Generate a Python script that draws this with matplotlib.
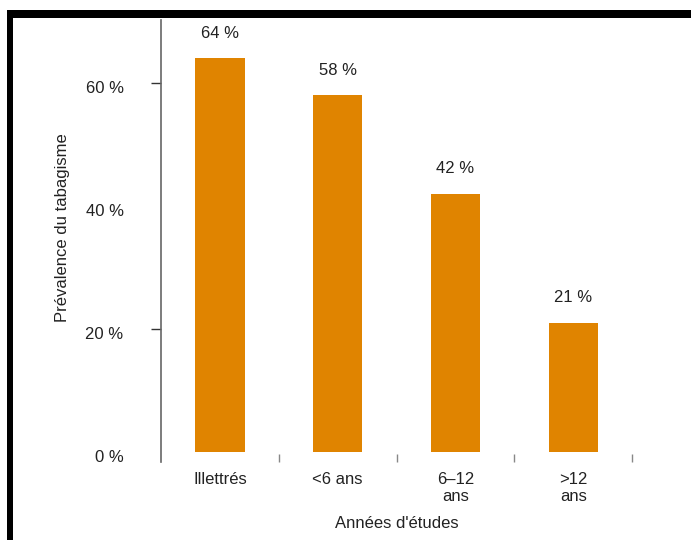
import matplotlib.pyplot as plt
from matplotlib.patches import Rectangle
from matplotlib.transforms import offset_copy

categories = ["Illettrés", "<6 ans", "6–12\nans", ">12\nans"]
prevalence = [64, 58, 42, 21]
value_labels = ["64 %", "58 %", "42 %", "21 %"]
y_ticks = [0, 20, 40, 60]
y_tick_labels = ["0 %", "20 %", "40 %", "60 %"]

plt.rcParams["font.family"] = ["Liberation Sans", "DejaVu Sans"]
text_color = "#222222"

fig = plt.figure(figsize=(6.91, 5.4), dpi=100)
ax = fig.add_axes([0.233, 0.1444, 0.682, 0.8186])

x = range(len(categories))
ax.bar(x, prevalence, width=0.42, color="#E08400")

for i, (v, lab) in enumerate(zip(prevalence, value_labels)):
    ax.annotate(lab, (i, v), xytext=(0, 18), textcoords="offset points",
                ha="center", va="center", fontsize=12, color=text_color)

ax.set_xlim(-0.5, 3.5)
ax.set_ylim(-1.63, 70.24)

# y axis: labels at every 20 %, tick marks only at 20 and 60
ax.set_yticks(y_ticks)
ax.set_yticklabels(y_tick_labels)
ax.tick_params(axis="y", which="major", length=0, pad=27, labelsize=12,
               labelcolor=text_color)
for lbl in ax.get_yticklabels():
    lbl.set_transform(offset_copy(lbl.get_transform(), fig=fig, x=0, y=-4, units="dots"))
ax.yaxis.remove_overlapping_locs = False
ax.set_yticks([20, 60], minor=True)
ax.tick_params(axis="y", which="minor", length=7, width=1, color="#333333", direction="out")

# x axis: boundary ticks pointing up, labels centred under bars
ax.set_xticks(list(x))
ax.set_xticklabels(categories, linespacing=1.15)
ax.tick_params(axis="x", which="major", length=0, pad=7, labelsize=12,
               labelcolor=text_color)
ax.set_xticks([0.5, 1.5, 2.5, 3.5], minor=True)
ax.tick_params(axis="x", which="minor", length=6, width=1, color="#888888",
               direction="in")

for s in ["top", "right", "bottom"]:
    ax.spines[s].set_visible(False)
ax.spines["left"].set_color("#666666")
ax.spines["left"].set_linewidth(1.2)

ax.set_ylabel("Prévalence du tabagisme", fontsize=12, color=text_color)
ax.yaxis.set_label_coords(-0.193, 0.53)
ax.set_xlabel("Années d'études", fontsize=12, color=text_color)
ax.xaxis.set_label_coords(0.5, -0.122)

# black frame (top and left edges of the original screenshot)
fig.add_artist(Rectangle((7 / 691, 0), 6 / 691, 1 - 10 / 540,
                         transform=fig.transFigure, color="black", lw=0))
fig.add_artist(Rectangle((7 / 691, 1 - 18 / 540), 1, 8 / 540,
                         transform=fig.transFigure, color="black", lw=0))

fig.savefig("out.png", dpi=100)
